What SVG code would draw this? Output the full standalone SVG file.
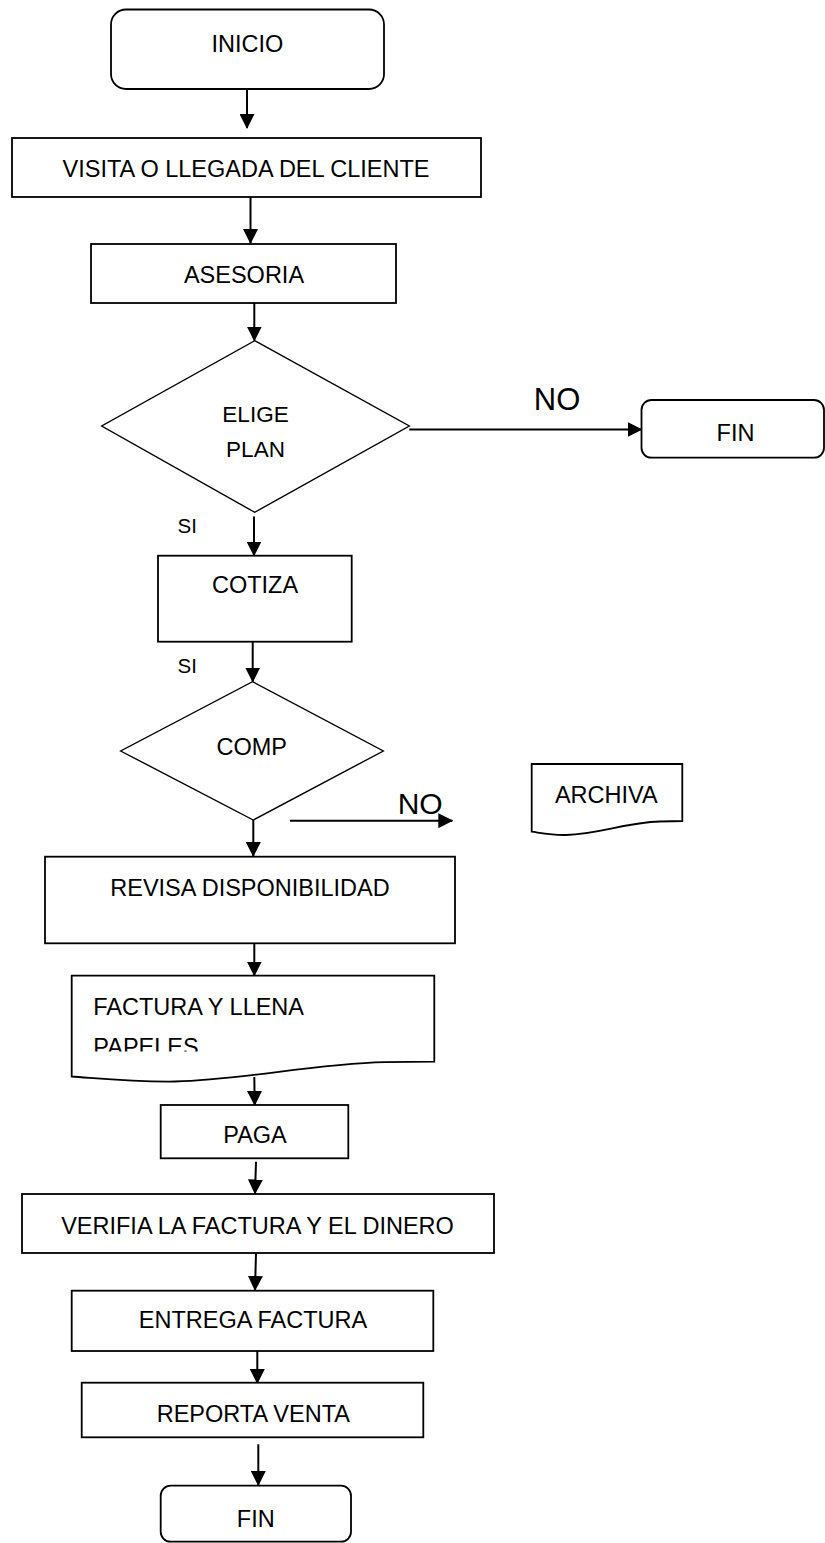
<svg xmlns="http://www.w3.org/2000/svg" width="825" height="1543" viewBox="0 0 825 1543">
<style>
.box{fill:#fff;stroke:#000;stroke-width:1.8}
.dia{fill:#fff;stroke:#000;stroke-width:1.4}
.t{font-family:"Liberation Sans",Arial,sans-serif;font-size:23.5px;fill:#000;text-anchor:middle}
.ts{text-anchor:start}
.con{fill:none;stroke:#000;stroke-width:2;marker-end:url(#ah)}
</style>
<defs>
<marker id="ah" markerUnits="userSpaceOnUse" markerWidth="15" markerHeight="15" viewBox="0 0 15 15" refX="14" refY="7.5" orient="auto">
<path d="M0,0 L15,7.5 L0,15 Z" fill="#000"/>
</marker>
<clipPath id="clipFact"><rect x="72" y="976" width="362" height="75.5"/></clipPath>
</defs>
<rect width="825" height="1543" fill="#fff"/>
<g id="connectors">
<line class="con" x1="247" y1="89" x2="247" y2="128"/>
<line class="con" x1="250.5" y1="197" x2="250.5" y2="243"/>
<line class="con" x1="254.3" y1="303" x2="254.3" y2="340.5"/>
<line class="con" x1="409.3" y1="429.5" x2="641.5" y2="429.5"/>
<line class="con" x1="254" y1="516.5" x2="254" y2="555.5"/>
<line class="con" x1="252.7" y1="641.7" x2="252.7" y2="681.5"/>
<line class="con" x1="290" y1="820.7" x2="452.3" y2="820.7"/>
<line class="con" x1="253.3" y1="820" x2="253.3" y2="856"/>
<line class="con" x1="254.3" y1="943.3" x2="254.3" y2="975.5"/>
<line class="con" x1="254.3" y1="1077" x2="254.7" y2="1105"/>
<line class="con" x1="256" y1="1161.7" x2="255" y2="1193.5"/>
<line class="con" x1="256" y1="1253" x2="255" y2="1290"/>
<line class="con" x1="257.3" y1="1351" x2="257.3" y2="1383"/>
<line class="con" x1="258.3" y1="1444.3" x2="258.3" y2="1485"/>
</g>
<g id="labels">
<text class="t" x="557" y="410" style="font-size:31px">NO</text>
<text class="t ts" x="177.5" y="533.3" style="font-size:20.5px">SI</text>
<text class="t ts" x="177.5" y="673.3" style="font-size:20.5px">SI</text>
<text class="t ts" x="397.7" y="814.3" style="font-size:30px">NO</text>
</g>
<g id="inicio">
<rect class="box" x="111" y="9.5" width="273" height="79.5" rx="15"/>
<text class="t" x="247.5" y="52">INICIO</text>
</g>
<g id="visita">
<rect class="box" x="12" y="138" width="469" height="59"/>
<text class="t" x="246" y="177">VISITA O LLEGADA DEL CLIENTE</text>
</g>
<g id="asesoria">
<rect class="box" x="91" y="244" width="305" height="59"/>
<text class="t" x="244" y="283">ASESORIA</text>
</g>
<g id="elige">
<polygon class="dia" points="254.7,340.7 409.3,426 254.7,512.3 101.7,426"/>
<text class="t" x="255.5" y="421.5" style="font-size:22.5px">ELIGE</text>
<text class="t" x="255.5" y="457" style="font-size:22.5px">PLAN</text>
</g>
<g id="fin1">
<rect class="box" x="641.5" y="400" width="182.5" height="57.7" rx="10"/>
<text class="t" x="735.5" y="441">FIN</text>
</g>
<g id="cotiza">
<rect class="box" x="158" y="555.7" width="193.7" height="86"/>
<text class="t" x="255" y="593.3">COTIZA</text>
</g>
<g id="comp">
<polygon class="dia" points="252.5,681.7 383.3,751 253.3,820 120.7,751"/>
<text class="t" x="251.7" y="755">COMP</text>
</g>
<g id="archiva">
<path class="box" d="M531.7,764 L682.3,764 L682.3,821 L660,821.5 C625,822.5 600,834 566,835 C551,835.3 541,833 531.7,831.7 Z"/>
<text class="t" x="606.3" y="803.3">ARCHIVA</text>
</g>
<g id="revisa">
<rect class="box" x="45" y="856.7" width="410" height="86.6"/>
<text class="t" x="250" y="896">REVISA DISPONIBILIDAD</text>
</g>
<g id="factura">
<path class="box" d="M71.7,975.7 L434.3,975.7 L434.3,1061.7 L385,1062.2 C310,1064 245,1080 175,1081.5 C130,1082 95,1078 71.7,1076.5 Z"/>
<text class="t ts" x="93.3" y="1014.5">FACTURA Y LLENA</text>
<text class="t ts" x="93.3" y="1055" clip-path="url(#clipFact)">PAPELES</text>
</g>
<g id="paga">
<rect class="box" x="160.7" y="1105" width="187.6" height="53.3"/>
<text class="t" x="255" y="1143.3">PAGA</text>
</g>
<g id="verifia">
<rect class="box" x="22" y="1194" width="472" height="59"/>
<text class="t" x="257.5" y="1234.3">VERIFIA LA FACTURA Y EL DINERO</text>
</g>
<g id="entrega">
<rect class="box" x="71.7" y="1290.7" width="361.6" height="60.3"/>
<text class="t" x="253" y="1328.3">ENTREGA FACTURA</text>
</g>
<g id="reporta">
<rect class="box" x="81.7" y="1382.7" width="341.6" height="54.6"/>
<text class="t" x="253.3" y="1421.7">REPORTA VENTA</text>
</g>
<g id="fin2">
<rect class="box" x="160.7" y="1485.7" width="190.3" height="56" rx="10"/>
<text class="t" x="255.8" y="1527.3">FIN</text>
</g>
</svg>
